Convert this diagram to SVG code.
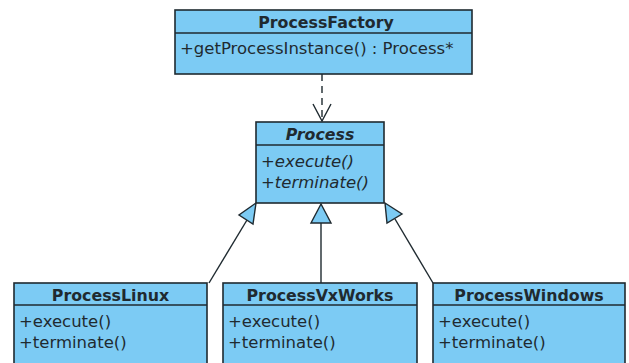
<svg xmlns="http://www.w3.org/2000/svg" width="629" height="363" viewBox="0 0 629 363">
<style>
.box{fill:#7ccbf4;stroke:#1f2a30;stroke-width:1.6}
.ln{stroke:#1f2a30;stroke-width:1.4;fill:none}
.t{font-family:"DejaVu Sans",sans-serif;font-size:16.5px;fill:#1f2a30}
.h{font-weight:bold;text-anchor:middle;font-size:15.8px}
.i{font-style:italic}
.tri{fill:#7ccbf4;stroke:#1f2a30;stroke-width:1.4;stroke-linejoin:miter}
</style>
<rect width="629" height="363" fill="#ffffff"/>
<g id="connectors">
<line class="ln" x1="322" y1="74" x2="322" y2="121" stroke-dasharray="7,5"/>
<polyline class="ln" points="313,104 322,121 331,104"/>
<line class="ln" x1="209" y1="283" x2="247" y2="220"/>
<polygon class="tri" points="256,203 239,215 253,224"/>
<line class="ln" x1="321" y1="283" x2="321" y2="223"/>
<polygon class="tri" points="321,204 311,223 331,223"/>
<line class="ln" x1="433" y1="283" x2="395" y2="219"/>
<polygon class="tri" points="385,203 402,214 387,223"/>
</g>
<g id="ProcessFactory">
<rect class="box" x="175" y="10" width="297" height="64"/>
<line class="ln" x1="175" y1="33" x2="472" y2="33"/>
<text class="t h" x="326" y="28">ProcessFactory</text>
<text class="t" x="180" y="54">+getProcessInstance() : Process*</text>
</g>
<g id="Process">
<rect class="box" x="256" y="122" width="128" height="81"/>
<line class="ln" x1="256" y1="145" x2="384" y2="145"/>
<text class="t h i" x="320" y="140">Process</text>
<text class="t i" x="261" y="167">+execute()</text>
<text class="t i" x="261" y="188">+terminate()</text>
</g>
<g id="ProcessLinux">
<rect class="box" x="14" y="283" width="193" height="90"/>
<line class="ln" x1="14" y1="305" x2="207" y2="305"/>
<text class="t h" x="110.5" y="301">ProcessLinux</text>
<text class="t" x="19" y="327">+execute()</text>
<text class="t" x="19" y="348">+terminate()</text>
</g>
<g id="ProcessVxWorks">
<rect class="box" x="223" y="283" width="194" height="90"/>
<line class="ln" x1="223" y1="305" x2="417" y2="305"/>
<text class="t h" x="320" y="301">ProcessVxWorks</text>
<text class="t" x="228" y="327">+execute()</text>
<text class="t" x="228" y="348">+terminate()</text>
</g>
<g id="ProcessWindows">
<rect class="box" x="433" y="283" width="192" height="90"/>
<line class="ln" x1="433" y1="305" x2="625" y2="305"/>
<text class="t h" x="529" y="301">ProcessWindows</text>
<text class="t" x="438" y="327">+execute()</text>
<text class="t" x="438" y="348">+terminate()</text>
</g>
</svg>
